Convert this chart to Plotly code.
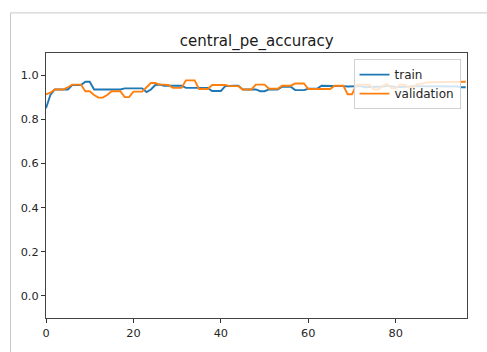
import plotly.graph_objects as go

epochs = list(range(97))

train = [0.85, 0.91, 0.935, 0.935, 0.935, 0.935, 0.955, 0.955, 0.955, 0.97,
         0.97, 0.935, 0.935, 0.935, 0.935, 0.935, 0.935, 0.935, 0.94, 0.94,
         0.94, 0.94, 0.94, 0.923, 0.935, 0.955, 0.957, 0.952, 0.952, 0.952,
         0.952, 0.952, 0.942, 0.942, 0.942, 0.942, 0.942, 0.942, 0.928, 0.928,
         0.928, 0.95, 0.952, 0.952, 0.952, 0.935, 0.935, 0.935, 0.935, 0.927,
         0.927, 0.935, 0.935, 0.935, 0.947, 0.947, 0.947, 0.932, 0.932, 0.932,
         0.938, 0.938, 0.938, 0.952, 0.952, 0.952, 0.952, 0.95, 0.95, 0.948,
         0.948, 0.95, 0.95, 0.945, 0.945, 0.948, 0.948, 0.948, 0.95, 0.95,
         0.945, 0.945, 0.948, 0.948, 0.95, 0.95, 0.948, 0.948, 0.948, 0.95,
         0.95, 0.948, 0.948, 0.948, 0.948, 0.945, 0.945]

validation = [0.913, 0.92, 0.935, 0.935, 0.935, 0.945, 0.957, 0.957, 0.957, 0.927,
              0.927, 0.91, 0.898, 0.898, 0.91, 0.927, 0.927, 0.927, 0.9, 0.9,
              0.925, 0.925, 0.925, 0.945, 0.964, 0.964, 0.957, 0.957, 0.955, 0.942,
              0.942, 0.942, 0.976, 0.976, 0.976, 0.937, 0.937, 0.937, 0.955, 0.955,
              0.955, 0.955, 0.95, 0.95, 0.95, 0.935, 0.935, 0.935, 0.957, 0.957,
              0.957, 0.938, 0.938, 0.938, 0.952, 0.952, 0.952, 0.962, 0.962, 0.962,
              0.937, 0.937, 0.937, 0.937, 0.937, 0.937, 0.952, 0.952, 0.952, 0.913,
              0.913, 0.956, 0.956, 0.956, 0.956, 0.935, 0.935, 0.95, 0.96, 0.94,
              0.94, 0.957, 0.957, 0.945, 0.945, 0.96, 0.96, 0.967, 0.967, 0.967,
              0.967, 0.97, 0.97, 0.97, 0.97, 0.97, 0.97]

y_ticks = [0.0, 0.2, 0.4, 0.6, 0.8, 1.0]
x_ticks = [0, 20, 40, 60, 80]

fig = go.Figure()
fig.add_trace(go.Scatter(x=epochs, y=train, mode="lines", name="train",
                         line=dict(color="#1f77b4", width=1.9)))
fig.add_trace(go.Scatter(x=epochs, y=validation, mode="lines", name="validation",
                         line=dict(color="#ff7f0e", width=1.9)))

W, H = 487, 352
L, R, T, B = 46, 467.5, 52.7, 325
pw, ph = R - L, B - T

def px(x):
    return (x - L) / pw

def py(y):
    return (B - y) / ph

# screenshot frame (grey lines on left and top)
fig.add_shape(type="line", xref="paper", yref="paper",
              x0=px(10.5), x1=px(500), y0=py(11.5), y1=py(11.5),
              line=dict(color="#c8c8c8", width=1))
fig.add_shape(type="line", xref="paper", yref="paper",
              x0=px(10.5), x1=px(10.5), y0=py(11.5), y1=py(360),
              line=dict(color="#c8c8c8", width=1))

font_family = "DejaVu Sans, sans-serif"

fig.update_layout(
    width=W, height=H,
    margin=dict(l=L, r=W - R, t=T, b=H - B),
    paper_bgcolor="white", plot_bgcolor="white",
    font=dict(family=font_family, size=11.3, color="#262626"),
    title=dict(text="central_pe_accuracy", x=(L + R) / 2 / W, xref="container",
               y=1 - 41 / H, yref="container", yanchor="middle", xanchor="center",
               font=dict(size=15, color="#1a1a1a")),
    legend=dict(x=px(461), y=py(59), xanchor="right", yanchor="top",
                bgcolor="rgba(255,255,255,0.8)", bordercolor="#d0d0d0", borderwidth=1,
                font=dict(size=12, color="#262626"),
                tracegroupgap=0, itemwidth=30),
    showlegend=True,
)
fig.update_xaxes(range=[0, 96.3], tickvals=x_ticks, ticks="outside", ticklen=4,
                 tickcolor="#333", showline=True, linecolor="#444", linewidth=1.2,
                 mirror=True, showgrid=False, zeroline=False)
fig.update_yaxes(range=[-0.1, 1.1], tickvals=y_ticks, tickformat=".1f",
                 ticks="outside", ticklen=4, tickcolor="#333", showline=True,
                 linecolor="#444", linewidth=1.2, mirror=True, showgrid=False,
                 zeroline=False)

fig.write_html("out.html")
